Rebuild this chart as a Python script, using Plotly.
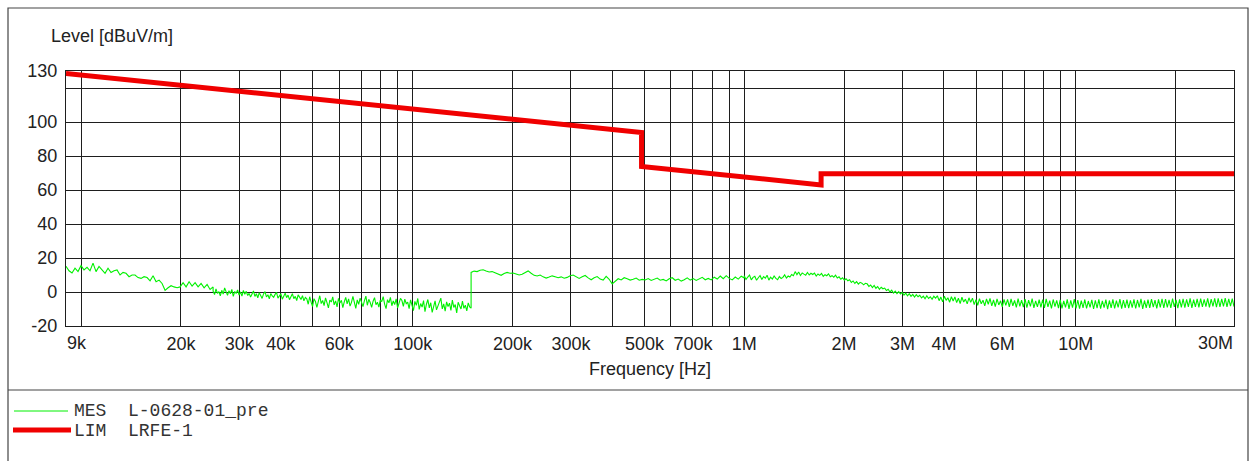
import numpy as np
import plotly.graph_objects as go

# ---------------- data ----------------
# Limit line LRFE-1 (frequency in Hz, level in dBuV/m)
LIM_FREQ = [9e3, 490e3, 490e3, 1.705e6, 1.705e6, 30e6]
LIM_LEVEL = [128.5, 93.8, 73.8, 63.0, 69.5, 69.5]

MES_A1_RANGE = (9e3, 25e3)
MES_A1 = [15.1, 12.5, 11.2, 14.0, 12.0, 15.5, 13.0, 14.5, 12.5, 17.0,
          12.0, 15.0, 13.0, 11.0, 14.0, 11.5, 12.5, 13.0, 10.0, 11.5,
          11.0, 9.0, 10.0, 10.0, 8.5, 8.0, 9.0, 8.5, 6.6, 9.6,
          6.0, 7.0, 5.0, 1.0, 2.5, 3.7, 3.0, 2.5, 3.0, 5.5,
          3.0, 6.0, 3.5, 5.5, 3.0, 5.0, 2.5, 4.5, 1.5, 3.0]

MES_A2_RANGE = (25e3, 150e3)
MES_A2 = [0.5, -1.5, 1.8, -0.8, 0.2, -2.2, 1.0, -1.2, 2.4, -0.5,
          -2.0, 0.8, -1.0, 1.5, -2.6, 0.3, -0.9, 1.2, -1.8, 0.0,
          -2.4, 0.9, -1.3, 0.4, -2.1,
          -0.8, -3.0, -1.2, 0.6, -2.6, -1.0, -3.4, -0.4, -2.0, -3.8,
          -1.1, 0.2, -2.9, -1.6, -4.0, -0.9, -2.3, -3.1, -1.4, -0.2,
          -3.6, -2.0, -1.0, -4.2, -2.5, -0.7, -3.3, -1.8, -4.5, -2.2,
          -1.0, -3.9, -2.6, -5.0, -1.7, -3.0, -4.4, -2.1, -5.2, -3.2,
          -4.0, -7.2, -2.8, -6.0, -8.5, -3.9, -5.6, -9.0, -4.4, -2.2,
          -6.8, -5.0, -8.0, -3.5, -6.3, -9.4, -4.7, -5.9, -2.9, -7.6,
          -5.2, -8.8, -3.8, -6.5, -4.9, -9.2, -5.8, -3.2, -7.0, -4.1,
          -8.3, -6.1, -2.6, -5.5, -9.6, -4.6, -7.3, -3.6, -6.7, -8.6,
          -5.1, -2.4, -7.8, -4.3, -6.2, -9.1, -5.4, -3.3, -7.5, -6.0,
          -8.9, -4.8, -5.7, -2.7, -7.1, -9.8, -4.5, -6.4, -3.1, -8.1,
          -5.3, -7.4, -4.0, -9.3, -6.6, -3.7, -5.0, -8.4, -4.2, -6.9,
          -6.0, -9.8, -4.6, -8.2, -11.0, -5.5, -7.9, -3.8, -10.2, -6.8,
          -8.9, -5.0, -11.6, -7.2, -4.4, -9.4, -6.3, -12.0, -7.7, -5.2,
          -10.5, -8.4, -6.1, -3.6, -9.9, -7.0, -11.3, -5.8, -8.6, -6.6,
          -10.8, -4.8, -9.1, -7.4, -12.3, -6.0, -8.1, -10.0, -5.4, -9.6,
          -7.8, -11.1, -6.4, -8.8, -9.5]

MES_B_RANGE = (150e3, 1e6)
MES_B = [11.5, 12.3, 12.0, 12.8, 13.1, 12.4, 11.8, 12.0, 11.2, 10.4,
         9.8, 10.9, 11.5, 11.0, 11.2, 10.6, 10.0, 10.4, 11.3, 12.4,
         11.0, 9.8, 9.4, 10.0, 8.9, 8.2, 8.8, 9.5, 9.0, 8.4,
         8.9, 8.1, 8.6, 9.6, 10.0, 8.8, 8.0, 8.9, 9.7, 8.3,
         7.2, 8.4, 9.1, 7.6, 7.0, 9.2, 7.5, 4.8, 6.2, 7.8,
         7.1, 8.4, 7.8, 7.0, 7.5, 8.2, 6.9, 7.4, 7.1, 7.9,
         6.8, 7.6, 8.2, 6.9, 7.4, 6.5, 7.8, 8.4, 6.9, 7.6,
         6.4, 7.2, 8.3, 7.0, 7.9, 6.8, 7.5, 8.6, 7.2, 8.0,
         7.1, 8.7, 7.6, 9.4, 7.8, 9.6, 8.0, 7.1, 8.8, 7.6,
         9.3, 8.2]

MES_C_RANGE = (1e6, 30e6)
MES_C = [9.5, 7.4, 8.8, 10.0, 7.1, 8.6, 9.2, 6.9, 8.4, 9.7,
         7.3, 9.0, 8.1, 9.9, 7.0, 8.7, 7.6, 9.4, 8.0, 7.2,
         9.1, 7.9, 8.6, 10.1, 8.2, 9.4, 8.8, 10.3, 9.6, 12.0,
         10.2, 11.8, 9.7, 11.2, 10.5, 9.9, 11.5, 10.0, 11.0, 10.3,
         11.1, 9.4, 10.6, 9.8, 10.9, 9.2, 10.2, 9.6, 10.7, 9.0,
         9.6, 8.7, 9.9, 8.2, 8.9, 7.5, 8.4, 6.9, 7.8, 6.6,
         7.2, 5.6, 6.5, 5.0, 6.1, 4.6, 5.7, 5.2, 4.2, 5.1,
         4.8, 3.3, 4.1, 2.6, 3.9, 2.2, 3.2, 1.6, 2.8, 1.9,
         2.3, 0.9, 1.6, 0.0, 1.1, -0.6, 0.5, -0.9, 0.2, -1.2,
         -0.2, -1.8, -0.7, -2.3, -1.0, -2.6, -1.4, -3.0, -1.6, -2.8,
         -1.9, -3.5, -2.4, -4.0, -2.2, -3.8, -2.8, -4.3, -2.5, -3.6,
         -2.2, -5.1, -3.0, -5.8, -2.5, -4.9, -3.4, -6.0, -2.8, -5.3,
         -2.9, -6.2, -3.7, -6.8, -3.1, -5.9, -4.2, -7.0, -3.4, -6.1,
         -3.6, -7.4, -4.5, -7.8, -3.9, -6.9, -4.8, -8.1, -4.1, -7.2,
         -3.8, -8.2, -4.7, -8.6, -4.0, -7.6, -5.2, -8.8, -4.3, -7.9,
         -4.3, -8.7, -4.0, -8.1, -5.0, -9.1, -3.9, -8.4, -4.8, -8.9,
         -4.2, -9.2, -4.8, -8.5, -3.9, -9.4, -5.2, -8.7, -4.5, -9.0,
         -4.5, -9.3, -4.1, -8.8, -5.1, -9.7, -4.4, -8.6, -4.9, -9.5,
         -4.6, -9.6, -5.2, -9.0, -4.3, -9.9, -4.9, -9.2, -4.2, -9.7,
         -4.7, -9.8, -5.1, -9.3, -4.4, -9.7, -5.3, -9.1, -4.6, -10.0,
         -4.9, -9.5, -4.3, -9.8, -5.2, -9.2, -4.5, -10.1, -5.0, -9.4,
         -4.4, -9.6, -5.1, -9.1, -4.2, -9.8, -4.8, -9.3, -4.5, -9.5,
         -4.9, -9.2, -4.3, -9.7, -4.7, -9.0, -4.1, -9.9, -5.0, -9.4,
         -4.5, -9.3, -4.2, -8.9, -4.8, -9.6, -4.3, -9.1, -4.0, -9.4,
         -4.2, -9.0, -4.6, -9.4, -3.9, -8.8, -4.7, -9.5, -4.3, -9.1,
         -4.1, -9.2, -4.4, -8.8, -3.8, -9.3, -4.5, -8.7, -4.0, -9.0,
         -3.9, -8.8, -4.3, -8.6, -3.7, -9.1, -4.2, -8.5, -3.8, -8.9,
         -3.8, -8.7, -4.1, -8.4, -3.6, -8.8, -4.0, -8.3, -3.9, -8.6]

# Axis ticks
X_GRID = [1e4, 2e4, 3e4, 4e4, 5e4, 6e4, 7e4, 8e4, 9e4,
          1e5, 2e5, 3e5, 4e5, 5e5, 6e5, 7e5, 8e5, 9e5,
          1e6, 2e6, 3e6, 4e6, 5e6, 6e6, 7e6, 8e6, 9e6,
          1e7, 2e7]
X_LABELS = {2e4: "20k", 3e4: "30k", 4e4: "40k", 6e4: "60k", 1e5: "100k",
            2e5: "200k", 3e5: "300k", 5e5: "500k", 7e5: "700k", 1e6: "1M",
            2e6: "2M", 3e6: "3M", 4e6: "4M", 6e6: "6M", 1e7: "10M"}
Y_TICKS = [-20, 0, 20, 40, 60, 80, 100, 120, 130]
Y_LABELS = ["-20", "0", "20", "40", "60", "80", "100", "", "130"]

# ---------------- build ----------------
segs = [(MES_A1_RANGE, MES_A1), (MES_A2_RANGE, MES_A2),
        (MES_B_RANGE, MES_B), (MES_C_RANGE, MES_C)]
mes_f = np.concatenate([np.geomspace(r[0], r[1], len(v)) for r, v in segs])
mes_v = np.concatenate([np.array(v, dtype=float) for r, v in segs])

W, H = 1254, 461
L, R, T, B = 66, 1234, 71, 326  # plot area in pixels


def px(x):
    return (x - L) / (R - L)


def py(y):
    return (B - y) / (B - T)


FONT = "Liberation Sans, Arial, sans-serif"
MONO = "Liberation Mono, Courier New, monospace"
TXT = "#222"

fig = go.Figure()
fig.add_trace(go.Scatter(x=mes_f, y=mes_v, mode="lines", name="MES L-0628-01_pre",
                         line=dict(color="#00f000", width=1.1), showlegend=False))
fig.add_trace(go.Scatter(x=LIM_FREQ, y=LIM_LEVEL, mode="lines", name="LIM LRFE-1",
                         line=dict(color="#f00000", width=5), showlegend=False))

fig.update_xaxes(type="log", range=[np.log10(9e3), np.log10(30e6)],
                 tickvals=X_GRID, ticktext=[X_LABELS.get(v, "") for v in X_GRID],
                 showgrid=True, gridcolor="#1e1e1e", gridwidth=1.2,
                 showline=True, linecolor="#1e1e1e", linewidth=1.2, mirror=True,
                 ticks="", ticklabelstandoff=1,
                 tickfont=dict(family=FONT, size=18, color=TXT),
                 zeroline=False)
fig.update_yaxes(range=[-20, 130], tickvals=Y_TICKS, ticktext=Y_LABELS,
                 showgrid=True, gridcolor="#1e1e1e", gridwidth=1.2,
                 showline=True, linecolor="#1e1e1e", linewidth=1.2, mirror=True,
                 ticks="", ticklabelstandoff=4,
                 tickfont=dict(family=FONT, size=18, color=TXT),
                 zeroline=False)

ann = [
    dict(text="Level [dBuV/m]", x=px(49), y=py(36), xanchor="left", yanchor="middle",
         font=dict(family=FONT, size=18, color=TXT)),
    dict(text="Frequency [Hz]", x=px(650), y=py(369), xanchor="center", yanchor="middle",
         font=dict(family=FONT, size=18, color=TXT)),
    dict(text="9k", x=px(65), y=py(343), xanchor="left", yanchor="middle",
         font=dict(family=FONT, size=18, color=TXT)),
    dict(text="30M", x=px(1235), y=py(343), xanchor="right", yanchor="middle",
         font=dict(family=FONT, size=18, color=TXT)),
    dict(text="MES  L-0628-01_pre", x=px(72), y=py(411), xanchor="left", yanchor="middle",
         font=dict(family=MONO, size=18, color="#333")),
    dict(text="LIM  LRFE-1", x=px(72), y=py(431), xanchor="left", yanchor="middle",
         font=dict(family=MONO, size=18, color="#333")),
]
for a in ann:
    a.update(xref="paper", yref="paper", showarrow=False)

shapes = [
    # outer frame
    dict(type="rect", x0=px(8), x1=px(1248), y0=py(475), y1=py(8),
         line=dict(color="#444", width=1.2), fillcolor="rgba(0,0,0,0)", layer="below"),
    # separator above legend
    dict(type="line", x0=px(8), x1=px(1248), y0=py(390), y1=py(390),
         line=dict(color="#444", width=1.2)),
    # legend samples
    dict(type="line", x0=px(14), x1=px(68), y0=py(411), y1=py(411),
         line=dict(color="#00f000", width=1)),
    dict(type="line", x0=px(13), x1=px(71), y0=py(430), y1=py(430),
         line=dict(color="#f00000", width=5)),
]
for s in shapes:
    s.update(xref="paper", yref="paper")

fig.update_layout(width=W, height=H, autosize=False,
                  margin=dict(l=L, r=W - R, t=T, b=H - B, pad=0),
                  paper_bgcolor="white", plot_bgcolor="white",
                  annotations=ann, shapes=shapes, showlegend=False)

fig.write_html("out.html", config={"displayModeBar": False},
               post_script="document.body.style.margin='0';")
